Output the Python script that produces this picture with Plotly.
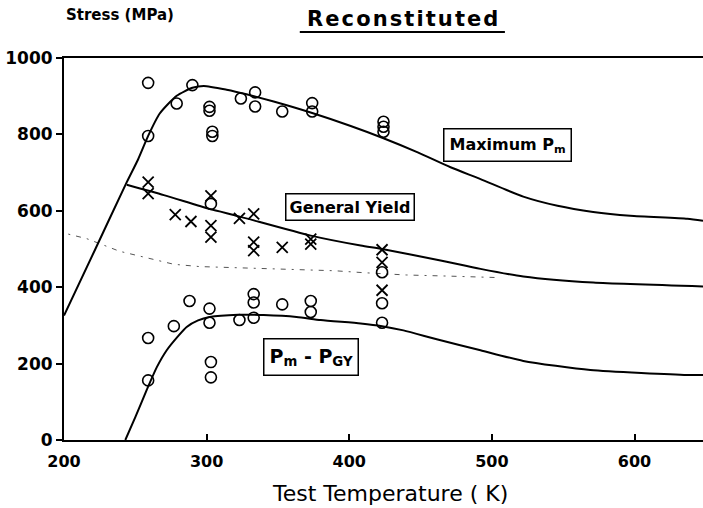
import plotly.graph_objects as go

# ---- data ----
# Maximum Pm points (open circles)
max_T = [259, 259, 279, 290, 302, 302, 304, 304, 324, 334, 334, 353, 374, 374, 424, 424, 424]
max_S = [935, 796, 881, 929, 872, 862, 807, 796, 894, 910, 873, 860, 882, 860, 833, 820, 807]

# General yield points (crosses)
gy_T = [259, 259, 278, 289, 303, 303, 303, 323, 333, 333, 333, 353, 373, 373, 423, 423, 423]
gy_S = [675, 645, 590, 572, 639, 561, 531, 580, 592, 518, 496, 504, 526, 513, 498, 465, 392]

# Pm - PGY points (open circles)
diff_T = [259, 259, 277, 288, 302, 302, 303, 303, 303, 323, 333, 333, 333, 353, 373, 373, 423, 423, 423]
diff_S = [267, 156, 298, 364, 344, 307, 204, 164, 618, 314, 382, 360, 320, 355, 364, 335, 439, 358, 307]

# fitted curves
max_curve_T = [200, 222, 244, 252, 259, 267, 279, 290, 298, 314, 328, 347, 374, 401, 424, 448, 471, 492, 522, 546, 571, 597, 637, 648]
max_curve_S = [326, 500, 675, 735, 796, 854, 901, 922, 927, 917, 905, 886, 856, 822, 790, 753, 714, 683, 637, 613, 597, 587, 579, 574]

gy_curve_T = [244, 270, 302, 322, 373, 408, 423, 464, 492, 522, 571, 648]
gy_curve_S = [668, 641, 605, 586, 535, 509, 500, 470, 448, 428, 412, 402]

diff_curve_T = [243, 250, 258, 265, 272, 280, 286, 294, 302, 322, 340, 363, 380, 408, 423, 438, 462, 492, 522, 569, 637, 648]
diff_curve_S = [0, 60, 131, 190, 235, 272, 296, 313, 322, 328, 327, 322, 314, 305, 298, 287, 263, 235, 207, 183, 170, 170]

dot_T = [203, 216, 239, 257, 277, 295, 320, 360, 390, 410, 440, 470, 506]
dot_S = [539, 527, 494, 478, 460, 454, 451, 447, 443, 438, 432, 429, 425]

x_ticks = [200, 300, 400, 500, 600]
y_ticks = [0, 200, 400, 600, 800, 1000]

FONT = "DejaVu Sans"

fig = go.Figure()

fig.add_trace(go.Scatter(x=dot_T, y=dot_S, mode="lines",
                         line=dict(color="#555", width=1, dash="2px,6px,5px,6px")))
fig.add_trace(go.Scatter(x=max_curve_T, y=max_curve_S, mode="lines",
                         line=dict(color="black", width=2, shape="spline", smoothing=0.6)))
fig.add_trace(go.Scatter(x=gy_curve_T, y=gy_curve_S, mode="lines",
                         line=dict(color="black", width=2, shape="spline", smoothing=0.6)))
fig.add_trace(go.Scatter(x=diff_curve_T, y=diff_curve_S, mode="lines",
                         line=dict(color="black", width=2, shape="spline", smoothing=0.6)))

fig.add_trace(go.Scatter(x=max_T, y=max_S, mode="markers",
                         marker=dict(symbol="circle-open", size=11, color="black",
                                     line=dict(width=1.6, color="black"))))
fig.add_trace(go.Scatter(x=diff_T, y=diff_S, mode="markers",
                         marker=dict(symbol="circle-open", size=11, color="black",
                                     line=dict(width=1.6, color="black"))))
fig.add_trace(go.Scatter(x=gy_T, y=gy_S, mode="markers",
                         marker=dict(symbol="x-thin-open", size=11, color="black",
                                     line=dict(width=1.8, color="black"))))

def box(size, pad):
    return dict(showarrow=False, bordercolor="black", borderwidth=1.5, borderpad=pad,
                bgcolor="white", font=dict(family=FONT, size=size, color="black", weight="bold"))

fig.add_annotation(x=511, y=773, text="Maximum P<sub>m</sub>", **box(16, 5))
fig.add_annotation(x=400.5, y=609, text="General Yield", **box(16, 3))
fig.add_annotation(x=373, y=217, text="P<sub>m</sub> - P<sub>GY</sub>", **box(19, 5))

# title
title_txt = "\u200a".join(list("Reconstituted"))
fig.add_annotation(xref="paper", yref="paper", x=0.529, y=1.103, text=title_txt,
                   showarrow=False, xanchor="center", yanchor="middle",
                   font=dict(family=FONT, size=21, color="black", weight="bold"))
fig.add_shape(type="line", xref="paper", yref="paper", x0=0.369, x1=0.690,
              y0=1.068, y1=1.068, line=dict(color="black", width=2))

fig.add_annotation(xref="paper", yref="paper", x=0.0, y=1.113, text="Stress (MPa)",
                   showarrow=False, xanchor="left", yanchor="middle",
                   font=dict(family=FONT, size=15, color="black", weight="bold"))

fig.add_annotation(xref="paper", yref="paper", x=0.51, y=-0.139,
                   text="Test Temperature ( K)", showarrow=False,
                   xanchor="center", yanchor="middle",
                   font=dict(family=FONT, size=22, color="black"))

fig.update_xaxes(range=[200, 648], tickvals=x_ticks, showline=True, linecolor="black",
                 linewidth=2, mirror=True, ticks="inside", ticklen=6, tickwidth=1.5,
                 tickcolor="black", showgrid=False, zeroline=False, ticklabelstandoff=6,
                 tickfont=dict(family=FONT, size=16, color="black", weight="bold"))
fig.update_yaxes(range=[0, 1000], tickvals=y_ticks, showline=True, linecolor="black",
                 linewidth=2, ticks="outside", ticklen=6, tickwidth=1.5,
                 tickcolor="black", showgrid=False, zeroline=False,
                 tickfont=dict(family=FONT, size=17, color="black", weight="bold"))

fig.update_layout(width=703, height=508, margin=dict(l=64, r=0, t=58, b=68),
                  plot_bgcolor="white", paper_bgcolor="white", showlegend=False)

fig.write_html("out.html")
